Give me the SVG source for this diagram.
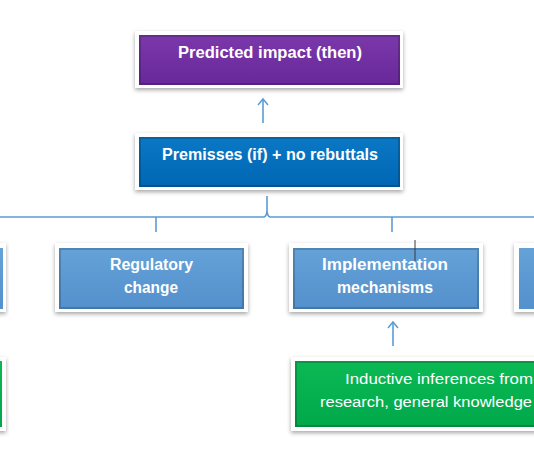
<svg xmlns="http://www.w3.org/2000/svg" width="534" height="462" viewBox="0 0 534 462">
<defs>
<filter id="sh" x="-10%" y="-20%" width="120%" height="150%">
<feDropShadow dx="0" dy="2" stdDeviation="2" flood-color="#000" flood-opacity="0.35"/>
</filter>
<linearGradient id="gP" x1="0" y1="0" x2="0" y2="1"><stop offset="0" stop-color="#7B38AB"/><stop offset="1" stop-color="#68289A"/></linearGradient>
<linearGradient id="gB" x1="0" y1="0" x2="0" y2="1"><stop offset="0" stop-color="#0A78C6"/><stop offset="1" stop-color="#0066B3"/></linearGradient>
<linearGradient id="gL" x1="0" y1="0" x2="0" y2="1"><stop offset="0" stop-color="#64A2D8"/><stop offset="1" stop-color="#5490CC"/></linearGradient>
<linearGradient id="gG" x1="0" y1="0" x2="0" y2="1"><stop offset="0" stop-color="#0BB954"/><stop offset="1" stop-color="#00A84A"/></linearGradient>
<marker id="ah" viewBox="0 0 12 12" refX="10" refY="6" markerWidth="12" markerHeight="12" markerUnits="userSpaceOnUse" orient="auto">
<path d="M4,1 L10,6 L4,11" fill="none" stroke="#5B9BD5" stroke-width="1.5"/>
</marker>
</defs>
<style>
.frame{fill:#fff;filter:url(#sh)}
.bev{fill:none;stroke:#000;stroke-opacity:0.18;stroke-width:2}
.t{font-family:"Liberation Sans","Open Sans",Arial,sans-serif;font-weight:bold;fill:#fff;text-anchor:middle;font-size:16px}
.tr{font-family:"Liberation Sans","Open Sans",Arial,sans-serif;fill:#fff;font-size:15.5px}
.con{fill:none;stroke:#5B9BD5;stroke-width:1.6}
</style>

<g id="connectors">
<path class="con" d="M263,123 L263,99" marker-end="url(#ah)"/>
<path class="con" d="M0,217 L264,217 Q267,216 267,210 L267,196 M267,210 Q267,216 270,217 L534,217"/>
<path class="con" d="M156,217 L156,232"/>
<path class="con" d="M392,217 L392,232"/>
<path class="con" d="M393,346 L393,322" marker-end="url(#ah)"/>
</g>

<g id="predicted">
<rect class="frame" x="135" y="31" width="268" height="57"/>
<rect x="139" y="35" width="261" height="50" fill="url(#gP)"/>
<rect class="bev" x="140" y="36" width="259" height="48"/>
<text class="t" x="270" y="58" textLength="184" lengthAdjust="spacingAndGlyphs">Predicted impact (then)</text>
</g>

<g id="premisses">
<rect class="frame" x="135" y="133" width="268" height="57"/>
<rect x="139" y="137" width="261" height="50" fill="url(#gB)"/>
<rect class="bev" x="140" y="138" width="259" height="48"/>
<text class="t" x="270" y="160" textLength="216" lengthAdjust="spacingAndGlyphs">Premisses (if) + no rebuttals</text>
</g>

<g id="left-box">
<rect class="frame" x="-20" y="243" width="26" height="69"/>
<rect x="-20" y="248" width="23" height="61" fill="url(#gL)"/>
</g>

<g id="regulatory">
<rect class="frame" x="55" y="243" width="193" height="69"/>
<rect x="59" y="248" width="185" height="61" fill="url(#gL)"/>
<rect class="bev" x="60" y="249" width="183" height="59"/>
<text class="t" x="151.5" y="270" textLength="83" lengthAdjust="spacingAndGlyphs">Regulatory</text>
<text class="t" x="151" y="293" textLength="54" lengthAdjust="spacingAndGlyphs">change</text>
</g>

<g id="implementation">
<rect class="frame" x="289" y="243" width="194" height="69"/>
<rect x="293" y="248" width="186" height="61" fill="url(#gL)"/>
<rect class="bev" x="294" y="249" width="184" height="59"/>
<text class="t" x="385" y="270" textLength="126" lengthAdjust="spacingAndGlyphs">Implementation</text>
<text class="t" x="385" y="293" textLength="96" lengthAdjust="spacingAndGlyphs">mechanisms</text>
</g>

<g id="right-box">
<rect class="frame" x="514" y="243" width="40" height="69"/>
<rect x="519" y="248" width="35" height="61" fill="url(#gL)"/>
</g>

<g id="left-green">
<rect class="frame" x="-20" y="357" width="26" height="74"/>
<rect x="-20" y="361" width="22" height="66" fill="url(#gG)"/>
</g>

<g id="inductive">
<rect class="frame" x="291" y="357" width="263" height="74"/>
<rect x="295" y="361" width="259" height="66" fill="url(#gG)"/>
<rect class="bev" x="296" y="362" width="257" height="64"/>
<text class="tr" x="345" y="384" textLength="188" lengthAdjust="spacingAndGlyphs">Inductive inferences from</text>
<text class="tr" x="320" y="407" textLength="212" lengthAdjust="spacingAndGlyphs">research, general knowledge</text>
</g>

<line x1="415" y1="240" x2="415" y2="261" stroke="#3a3a3a" stroke-width="1"/>
</svg>
